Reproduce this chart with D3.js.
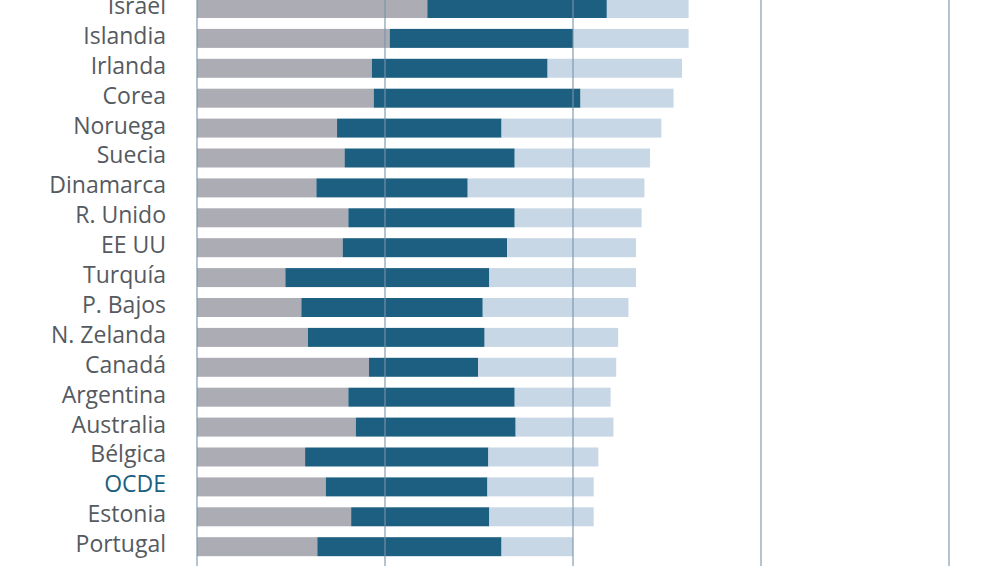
<!DOCTYPE html>
<html><head><meta charset="utf-8">
<script src="https://cdn.jsdelivr.net/npm/d3@7"></script>
<style>html,body{margin:0;padding:0;background:#fff;overflow:hidden}</style>
</head><body>
<svg id="c" width="1006" height="566"></svg>
<script>
const categories = ["Israel","Islandia","Irlanda","Corea","Noruega","Suecia","Dinamarca","R. Unido","EE UU","Turquía","P. Bajos","N. Zelanda","Canadá","Argentina","Australia","Bélgica","OCDE","Estonia","Portugal"];
const seriesA = [24.5,20.5,18.6,18.8,14.9,15.7,12.7,16.1,15.5,9.4,11.1,11.8,18.3,16.1,16.9,11.5,13.7,16.4,12.8];
const seriesB = [19.1,19.5,18.7,22.0,17.5,18.1,16.1,17.7,17.5,21.7,19.3,18.8,11.6,17.7,17.0,19.5,17.2,14.7,19.6];
const seriesC = [8.7,12.3,14.3,9.9,17.0,14.4,18.8,13.5,13.7,15.6,15.5,14.2,14.7,10.2,10.4,11.7,11.3,11.1,7.6];
const gridTicks = [0,20,40,60,80];

const svg = d3.select("#c");
const x = d3.scaleLinear().domain([0,80]).range([197,949]);
const step = 29.9;
const y = d3.scaleBand().domain(categories)
  .range([-1, -1 + step*(categories.length - 0.365)])
  .paddingInner(0.365).paddingOuter(0);

const rows = categories.map((c,i)=>({c, a:seriesA[i], b:seriesB[i], cc:seriesC[i]}));
const keys = ["a","b","cc"];
const colors = {a:"#abacb4", b:"#1d5f80", cc:"#c8d7e5"};
const stack = d3.stack().keys(keys)(rows);

svg.append("g").selectAll("g").data(stack).join("g")
  .attr("fill", d=>colors[d.key])
  .selectAll("rect").data(d=>d).join("rect")
  .attr("x", d=>x(d[0]))
  .attr("width", d=>x(d[1])-x(d[0]))
  .attr("y", d=>y(d.data.c))
  .attr("height", y.bandwidth());

// gridlines over bars
svg.append("g").selectAll("line").data(gridTicks).join("line")
  .attr("x1", d=>x(d)).attr("x2", d=>x(d))
  .attr("y1", 0).attr("y2", 566)
  .attr("stroke", "#7a93a8").attr("stroke-opacity", 0.85).attr("stroke-width", 1.3);

// labels
svg.append("g").selectAll("text").data(categories).join("text")
  .attr("x", 166).attr("y", d=>y(d)+y.bandwidth()/2 + 5.5)
  .attr("text-anchor","end")
  .attr("font-family","'Open Sans', sans-serif").attr("font-size", 23)
  .attr("fill", d=> d==="OCDE" ? "#1d5f80" : "#555a60")
  .text(d=>d);
</script>
</body></html>
